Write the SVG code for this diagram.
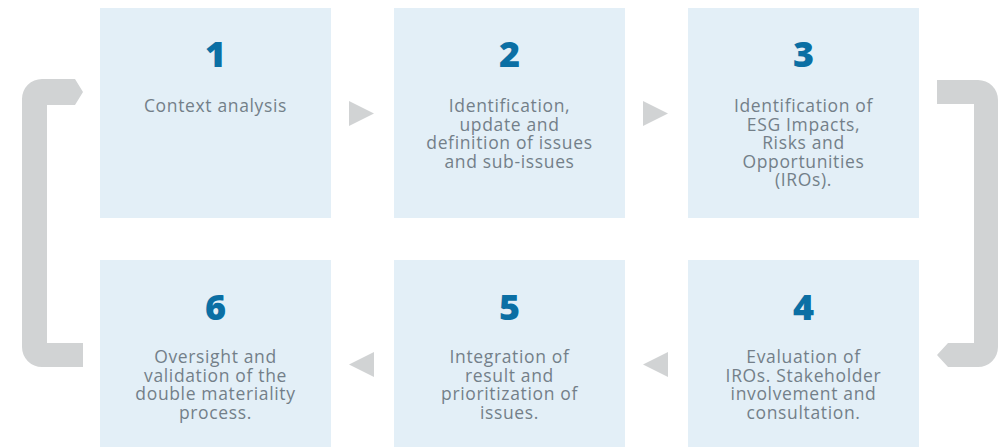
<svg xmlns="http://www.w3.org/2000/svg" width="1006" height="447" viewBox="0 0 1006 447">
<style>
.box{fill:#e3eff7}
.num{font-family:"Open Sans","Liberation Sans",sans-serif;font-weight:800;font-size:36px;fill:#0b6fa4;text-anchor:middle}
.txt{font-family:"Open Sans","Liberation Sans",sans-serif;font-size:17.5px;letter-spacing:0.65px;fill:#737f89;text-anchor:middle}
.con{fill:#d1d3d4}
</style>
<rect width="1006" height="447" fill="#ffffff"/>
<g id="connectors">
<path class="con" d="M42,79 H75 L83,92 L75,105 H47 V343 H83 V367 H42 A20,20 0 0 1 22,347 V99 A20,20 0 0 1 42,79 Z"/>
<path class="con" d="M937,80 H978 A20,20 0 0 1 998,100 V347 A20,20 0 0 1 978,367 H948 L937,355 L948,343 H974 V104 H937 Z"/>
<polygon class="con" points="349,101 374,113.5 349,126"/>
<polygon class="con" points="643,101 668,113.5 643,126"/>
<polygon class="con" points="374,352 349,364.5 374,377"/>
<polygon class="con" points="668,352 643,364.5 668,377"/>
</g>
<g id="node1">
<rect class="box" x="100" y="8" width="231" height="210"/>
<text class="num" x="215.5" y="67">1</text>
<text class="txt" x="215.5" y="112">Context analysis</text>
</g>
<g id="node2">
<rect class="box" x="394" y="8" width="231" height="210"/>
<text class="num" x="509.5" y="67">2</text>
<text class="txt" x="509.5" y="112">Identification,</text>
<text class="txt" x="509.5" y="130.5">update and</text>
<text class="txt" x="509.5" y="149">definition of issues</text>
<text class="txt" x="509.5" y="167.5">and sub-issues</text>
</g>
<g id="node3">
<rect class="box" x="688" y="8" width="231" height="210"/>
<text class="num" x="803.5" y="67">3</text>
<text class="txt" x="803.5" y="112">Identification of</text>
<text class="txt" x="803.5" y="130.5">ESG Impacts,</text>
<text class="txt" x="803.5" y="149">Risks and</text>
<text class="txt" x="803.5" y="167.5">Opportunities</text>
<text class="txt" x="803.5" y="186">(IROs).</text>
</g>
<g id="node4">
<rect class="box" x="688" y="260" width="231" height="187"/>
<text class="num" x="803.5" y="320">4</text>
<text class="txt" x="803.5" y="363">Evaluation of</text>
<text class="txt" x="803.5" y="381.5">IROs. Stakeholder</text>
<text class="txt" x="803.5" y="400">involvement and</text>
<text class="txt" x="803.5" y="418.5">consultation.</text>
</g>
<g id="node5">
<rect class="box" x="394" y="260" width="231" height="187"/>
<text class="num" x="509.5" y="320">5</text>
<text class="txt" x="509.5" y="363">Integration of</text>
<text class="txt" x="509.5" y="381.5">result and</text>
<text class="txt" x="509.5" y="400">prioritization of</text>
<text class="txt" x="509.5" y="418.5">issues.</text>
</g>
<g id="node6">
<rect class="box" x="100" y="260" width="231" height="187"/>
<text class="num" x="215.5" y="320">6</text>
<text class="txt" x="215.5" y="363">Oversight and</text>
<text class="txt" x="215.5" y="381.5">validation of the</text>
<text class="txt" x="215.5" y="400">double materiality</text>
<text class="txt" x="215.5" y="418.5">process.</text>
</g>
</svg>
